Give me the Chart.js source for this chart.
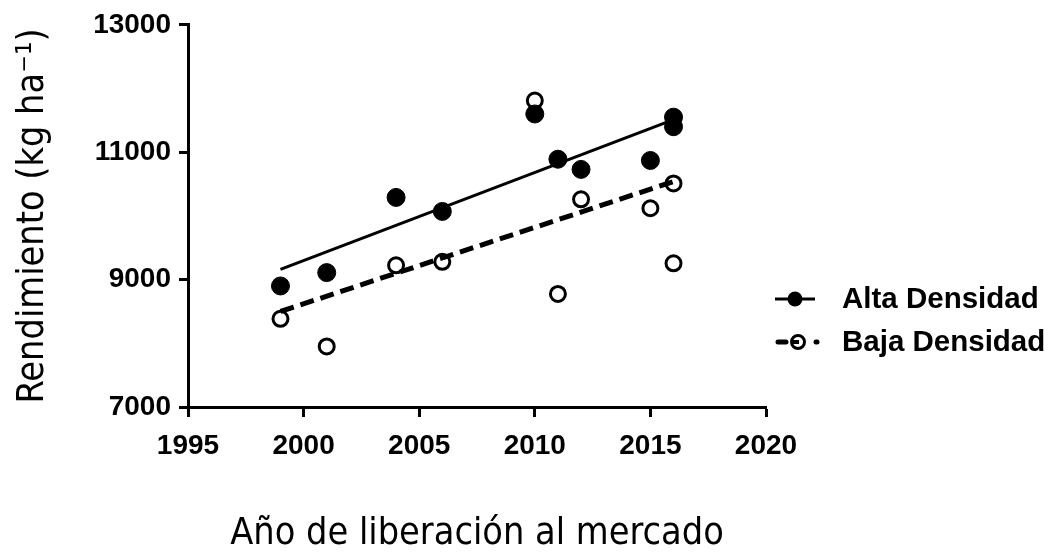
<!DOCTYPE html>
<html>
<head>
<meta charset="utf-8">
<script src="https://cdn.jsdelivr.net/npm/chart.js@4/dist/chart.umd.min.js"></script>
<style>
  html, body { margin: 0; padding: 0; background: #fff; }
  #wrap { width: 1062px; height: 555px; }
</style>
</head>
<body>
<div id="wrap"><canvas id="c" width="1062" height="555"></canvas></div>
<script>
// ---- data ----
const years = [1999, 2001, 2004, 2006, 2010, 2011, 2012, 2015, 2016, 2016];
const alta  = [8900, 9110, 10290, 10070, 11600, 10890, 10730, 10870, 11550, 11400];
const baja  = [8385, 7950, 9225, 9280, 11810, 8775, 10260, 10120, 10510, 9255];
const fitYears = [1999, 2016];
const altaFit = [9160, 11510];
const bajaFit = [8500, 10540];
const xTicks = [1995, 2000, 2005, 2010, 2015, 2020];
const yTicks = [7000, 9000, 11000, 13000];
const seriesLabels = ['Alta Densidad', 'Baja Densidad'];
const xTitle = 'Año de liberación al mercado';
const yTitle = 'Rendimiento (kg ha⁻¹)';

const toPts = (xs, ys) => xs.map((x, i) => ({ x: x, y: ys[i] }));

const narrow = "'Liberation Sans Narrow', 'Arial Narrow', 'DejaVu Sans Condensed', sans-serif";
const bold = "'Liberation Sans', Arial, sans-serif";

const legendPlugin = {
  id: 'sideLegend',
  afterDraw(chart) {
    const ctx = chart.ctx;
    const rows = [299, 342];
    ctx.save();
    rows.forEach((y, i) => {
      ctx.strokeStyle = '#000';
      ctx.fillStyle = '#000';
      if (i === 0) {
        ctx.lineWidth = 3;
        ctx.beginPath(); ctx.moveTo(775, y); ctx.lineTo(815, y); ctx.stroke();
        ctx.beginPath(); ctx.arc(795, y, 7.5, 0, Math.PI * 2); ctx.fill();
      } else {
        ctx.lineWidth = 5;
        ctx.lineCap = 'round';
        ctx.beginPath(); ctx.moveTo(778, y); ctx.lineTo(786, y); ctx.stroke();
        ctx.beginPath(); ctx.moveTo(816, y); ctx.lineTo(817, y); ctx.stroke();
        ctx.lineCap = 'butt';
        ctx.fillStyle = '#fff';
        ctx.lineWidth = 3;
        ctx.beginPath(); ctx.arc(798, y, 6.5, 0, Math.PI * 2); ctx.fill(); ctx.stroke();
        ctx.lineWidth = 4;
        ctx.beginPath(); ctx.moveTo(791, y); ctx.lineTo(799, y); ctx.stroke();
        ctx.fillStyle = '#000';
      }
      ctx.font = 'bold 29.5px ' + bold;
      ctx.textBaseline = 'middle';
      ctx.textAlign = 'left';
      ctx.fillText(seriesLabels[i], 842, y + 1);
    });
    ctx.restore();
  }
};

new Chart(document.getElementById('c'), {
  type: 'scatter',
  data: {
    datasets: [
      {
        label: seriesLabels[0] + ' fit',
        type: 'line',
        data: toPts(fitYears, altaFit),
        borderColor: '#000',
        borderWidth: 3,
        pointRadius: 0,
        fill: false,
        order: 0
      },
      {
        label: seriesLabels[1] + ' fit',
        type: 'line',
        data: toPts(fitYears, bajaFit),
        borderColor: '#000',
        borderWidth: 5,
        borderDash: [14, 7],
        pointRadius: 0,
        fill: false,
        order: 0
      },
      {
        label: seriesLabels[0],
        data: toPts(years, alta),
        backgroundColor: '#000',
        borderColor: '#000',
        borderWidth: 1,
        pointRadius: 9,
        order: 1
      },
      {
        label: seriesLabels[1],
        data: toPts(years, baja),
        backgroundColor: '#fff',
        borderColor: '#000',
        borderWidth: 3,
        pointRadius: 7.5,
        order: 2
      }
    ]
  },
  options: {
    responsive: false,
    animation: false,
    events: [],
    layout: { padding: { top: 22, right: 296, left: 0, bottom: 0 } },
    plugins: { legend: { display: false }, tooltip: { enabled: false } },
    scales: {
      x: {
        type: 'linear',
        min: 1995, max: 2020,
        afterBuildTicks: s => { s.ticks = xTicks.map(v => ({ value: v })); },
        afterFit: s => { s.height = 148; },
        border: { display: true, color: '#000', width: 3 },
        grid: { display: true, drawOnChartArea: false, drawTicks: true, tickLength: 10, tickWidth: 3, tickColor: '#000' },
        ticks: {
          autoSkip: false, maxRotation: 0, padding: 12,
          color: '#000',
          font: { family: bold, size: 28, weight: 'bold' },
          callback: v => String(v)
        },
        title: {
          display: true, text: xTitle, color: '#000',
          font: { family: narrow, size: 37.5, weight: 'normal', lineHeight: 1 },
          padding: { top: 0, bottom: 2 }
        }
      },
      y: {
        type: 'linear',
        min: 7000, max: 13000,
        afterBuildTicks: s => { s.ticks = yTicks.map(v => ({ value: v })); },
        afterFit: s => { s.width = 188; },
        border: { display: true, color: '#000', width: 3 },
        grid: { display: true, drawOnChartArea: false, drawTicks: true, tickLength: 9, tickWidth: 3, tickColor: '#000' },
        ticks: {
          autoSkip: false, padding: 8,
          color: '#000',
          font: { family: bold, size: 28, weight: 'bold' },
          callback: v => String(v)
        },
        title: {
          display: true, text: yTitle, color: '#000',
          font: { family: narrow, size: 37.5, weight: 'normal', lineHeight: 1 },
          padding: { top: 15, bottom: 0 }
        }
      }
    }
  },
  plugins: [legendPlugin]
});
</script>
</body>
</html>
